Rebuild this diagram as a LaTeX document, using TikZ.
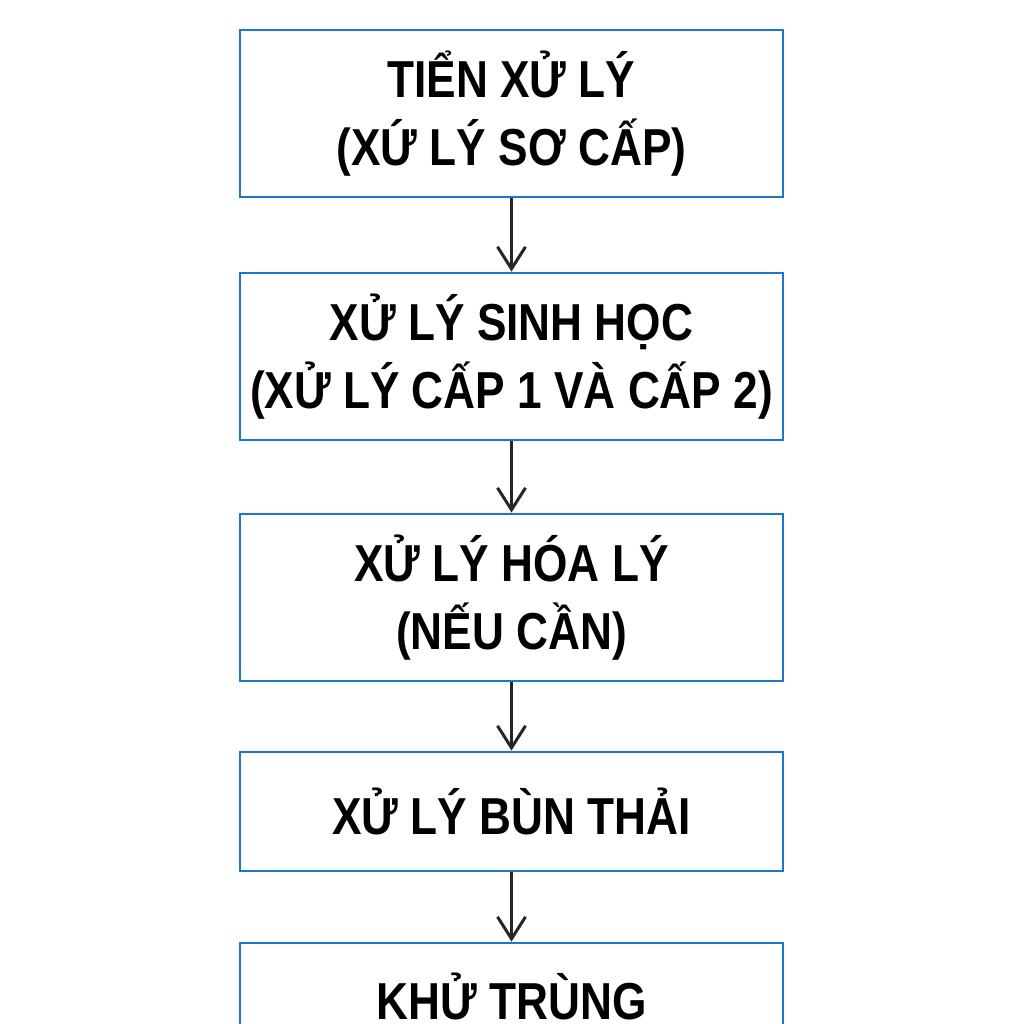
\documentclass[tikz,border=0pt]{standalone}
\usepackage{fontspec}
\setmainfont{Liberation Sans}[FakeStretch=0.85]
\usetikzlibrary{arrows.meta}
\definecolor{boxblue}{RGB}{28,118,208}
\tikzset{
  stage/.style={draw=boxblue,line width=2.8pt,minimum width=543pt,align=center,
    font=\fontsize{52}{68}\selectfont\bfseries,inner sep=0pt},
  flow/.style={draw=black!85,line width=2.4pt,-{Straight Barb[length=22pt,width=28pt,line width=3pt]}}
}
\begin{document}
\begin{tikzpicture}[x=1pt,y=-1pt]
\useasboundingbox[fill=white] (0,0) rectangle (1024,1024);

\node[stage,minimum height=167pt] (pre) at (511.5,113.5) {TIỂN XỬ LÝ\\(XỨ LÝ SƠ CẤP)};
\node[stage,minimum height=167pt] (bio) at (511.5,356.5) {XỬ LÝ SINH HỌC\\(XỬ LÝ CẤP 1 VÀ CẤP 2)};
\node[stage,minimum height=167pt] (chem) at (511.5,597.5) {XỬ LÝ HÓA LÝ\\(NẾU CẦN)};
\node[stage,minimum height=119pt] (sludge) at (511.5,811.5) {XỬ LÝ BÙN THẢI};
\node[stage,minimum height=167pt,text depth=60pt] (dis) at (511.5,1026.5) {KHỬ TRÙNG};

\path[flow] (pre) -- (bio);
\path[flow] (bio) -- (chem);
\path[flow] (chem) -- (sludge);
\path[flow] (sludge) -- (dis);
\end{tikzpicture}
\end{document}
